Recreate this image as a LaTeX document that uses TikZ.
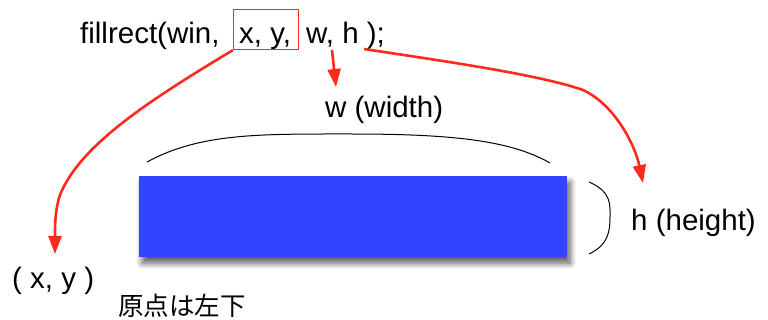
\documentclass[tikz,border=0pt]{standalone}
\usepackage{fontspec}
\setmainfont{Liberation Sans}
\newfontfamily\cjk{Noto Sans CJK JP}
\usetikzlibrary{arrows.meta,shadows.blur}
\definecolor{arrowred}{HTML}{FF2A1E}
\definecolor{rectblue}{HTML}{3344FF}
\tikzset{
  lbl/.style={inner sep=0pt, anchor=base west, font=\fontsize{29.5}{34}\selectfont},
  redarrow/.style={draw=arrowred, line width=2.6pt, -{Triangle[length=18pt,width=13pt]}},
  brace/.style={draw=black, line width=1pt},
}
\begin{document}
\begin{tikzpicture}[x=1pt,y=-1pt]
\useasboundingbox (0,0) rectangle (768,320);
% code line
\node[lbl] (call) at (80,44) {fillrect(win,};
\node[lbl] (xy) at (239,44) {x, y,};
\node[draw=arrowred, line width=1.3pt, minimum width=65pt, minimum height=40pt, inner sep=0pt] (xybox) at (266,29.5) {};
\node[lbl] (wh) at (306,44) {w, h );};
\coordinate (wstart) at (332,50);
\coordinate (hstart) at (364,49);
% labels
\node[lbl] (wlabel) at (325,118) {w (width)};
\node[lbl] (hlabel) at (631,231) {h (height)};
\node[lbl] (xylabel) at (12,288) {( x, y )};
\node[inner sep=0pt, anchor=base west, font=\cjk\fontsize{25.5}{30}\selectfont] (origin) at (118,316) {原点は左下};
% rectangle
\node[fill=rectblue, minimum width=428pt, minimum height=81pt, inner sep=0pt, anchor=north west,
      blur shadow={shadow xshift=3pt, shadow yshift=-6pt, shadow blur steps=10, shadow blur radius=6pt, shadow opacity=65}] (rect) at (139,176) {};
% braces
\draw[brace] (147,162) .. controls (200,133) and (260,134) .. (350,134) .. controls (450,134) and (510,140) .. (550,163);
\draw[brace] (589,182) .. controls (612,192) and (610,205) .. (610,217) .. controls (610,232) and (608,245) .. (589,254);
% arrows
\draw[redarrow] (xybox.south west) .. controls (150,100) and (80,145) .. (60,195) .. controls (55,210) and (55,225) .. (55,254);
\draw[redarrow] (wstart) -- (336,87);
\draw[redarrow] (hstart) .. controls (450,62) and (540,75) .. (583,90) .. controls (615,105) and (635,145) .. (643,183);
\end{tikzpicture}
\end{document}
